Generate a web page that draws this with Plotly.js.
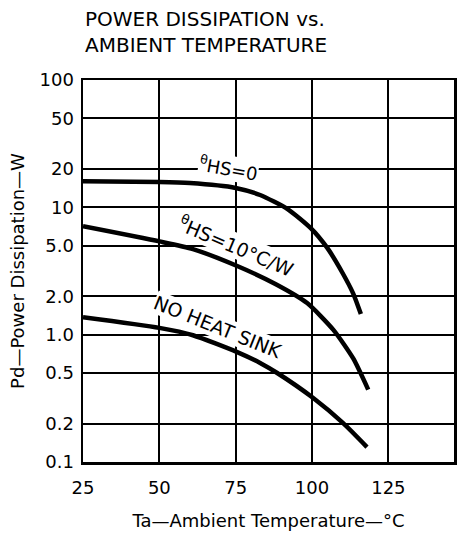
<!DOCTYPE html>
<html>
<head>
<meta charset="utf-8">
<script src="https://cdn.plot.ly/plotly-3.0.1.min.js"></script>
<style>
html,body{margin:0;padding:0;background:#fff;}
#chart{width:457px;height:535px;}
</style>
</head>
<body>
<div id="chart"></div>
<script>
// Data
var tempHS0 = [25, 50, 60, 75, 83, 92, 99.5, 105, 110, 113.5, 116];
var pdHS0   = [16, 15.8, 15.5, 14.2, 12.5, 9.7, 6.9, 4.8, 3.05, 2.1, 1.45];

var tempHS10 = [25, 50, 61, 75.5, 88, 98.4, 107, 113.5, 118.4];
var pdHS10   = [7.1, 5.4, 4.7, 3.46, 2.5, 1.77, 1.09, 0.65, 0.37];

var tempNoHS = [25, 50, 61, 75.5, 83, 88.6, 100.4, 110.2, 118];
var pdNoHS   = [1.37, 1.13, 0.99, 0.73, 0.60, 0.50, 0.318, 0.202, 0.131];

var xTickVals = [25, 50, 75, 100, 125];
var xTickText = ["25", "50", "75", "100", "125"];
var yTickVals = [100, 50, 20, 10, 5, 2, 1, 0.5, 0.2, 0.1];
var yTickText = ["100", "50", "20", "10", "5.0", "2.0", "1.0", "0.5", "0.2", "0.1"];

var curveLabels = ["<sup>θ</sup>HS=0", "<sup>θ</sup>HS=10°C/W", "NO HEAT SINK"];
var labelX = [72.5, 75.3, 69.3];
var labelY = [20.5, 5.0, 1.15];
var labelAngle = [10, 23, 22];
var labelSize = [18, 19, 19];

var chartTitle = "POWER DISSIPATION vs.<br>AMBIENT TEMPERATURE";

var FONT = "DejaVu Sans, sans-serif";
var lineStyle = {color: "#000", width: 4.5, shape: "spline", smoothing: 0.6};

var traces = [
  {x: tempHS0, y: pdHS0, mode: "lines", line: lineStyle, hoverinfo: "skip"},
  {x: tempHS10, y: pdHS10, mode: "lines", line: lineStyle, hoverinfo: "skip"},
  {x: tempNoHS, y: pdNoHS, mode: "lines", line: lineStyle, hoverinfo: "skip"}
];

var annotations = curveLabels.map(function(t, i) {
  return {
    x: labelX[i], y: Math.log10(labelY[i]), xref: "x", yref: "y",
    text: t, showarrow: false, textangle: labelAngle[i],
    font: {family: FONT, size: labelSize[i], color: "#000"},
    bgcolor: "#fff", borderpad: 0
  };
});
annotations.push({
  x: 0, xref: "paper", xanchor: "left",
  y: 1.197, yref: "paper", yanchor: "top",
  text: chartTitle, align: "left", showarrow: false,
  font: {family: FONT, size: 20, color: "#000"}
});

var layout = {
  width: 457, height: 535,
  margin: {l: 83, r: 3, t: 80, b: 73},
  paper_bgcolor: "#fff", plot_bgcolor: "#fff",
  showlegend: false,
  font: {family: FONT, size: 18, color: "#000"},
  xaxis: {
    range: [25, 146.5],
    tickvals: xTickVals, ticktext: xTickText,
    showgrid: true, gridcolor: "#000", gridwidth: 2,
    showline: true, linecolor: "#000", linewidth: 2.5, mirror: true,
    zeroline: false, ticks: "", ticklabelstandoff: 8,
    tickfont: {family: FONT, size: 18, color: "#000"},
    title: {text: "Ta—Ambient Temperature—°C", standoff: 18,
            font: {family: FONT, size: 18, color: "#000"}}
  },
  yaxis: {
    type: "log", range: [-1, 2],
    tickvals: yTickVals, ticktext: yTickText,
    showgrid: true, gridcolor: "#000", gridwidth: 2,
    showline: true, linecolor: "#000", linewidth: 2.5, mirror: true,
    zeroline: false, ticks: "", ticklabelstandoff: 3,
    tickfont: {family: FONT, size: 18, color: "#000"},
    title: {text: "Pd—Power Dissipation—W", standoff: 10,
            font: {family: FONT, size: 18, color: "#000"}}
  },
  annotations: annotations
};

Plotly.newPlot("chart", traces, layout, {staticPlot: true, displayModeBar: false});
</script>
</body>
</html>
